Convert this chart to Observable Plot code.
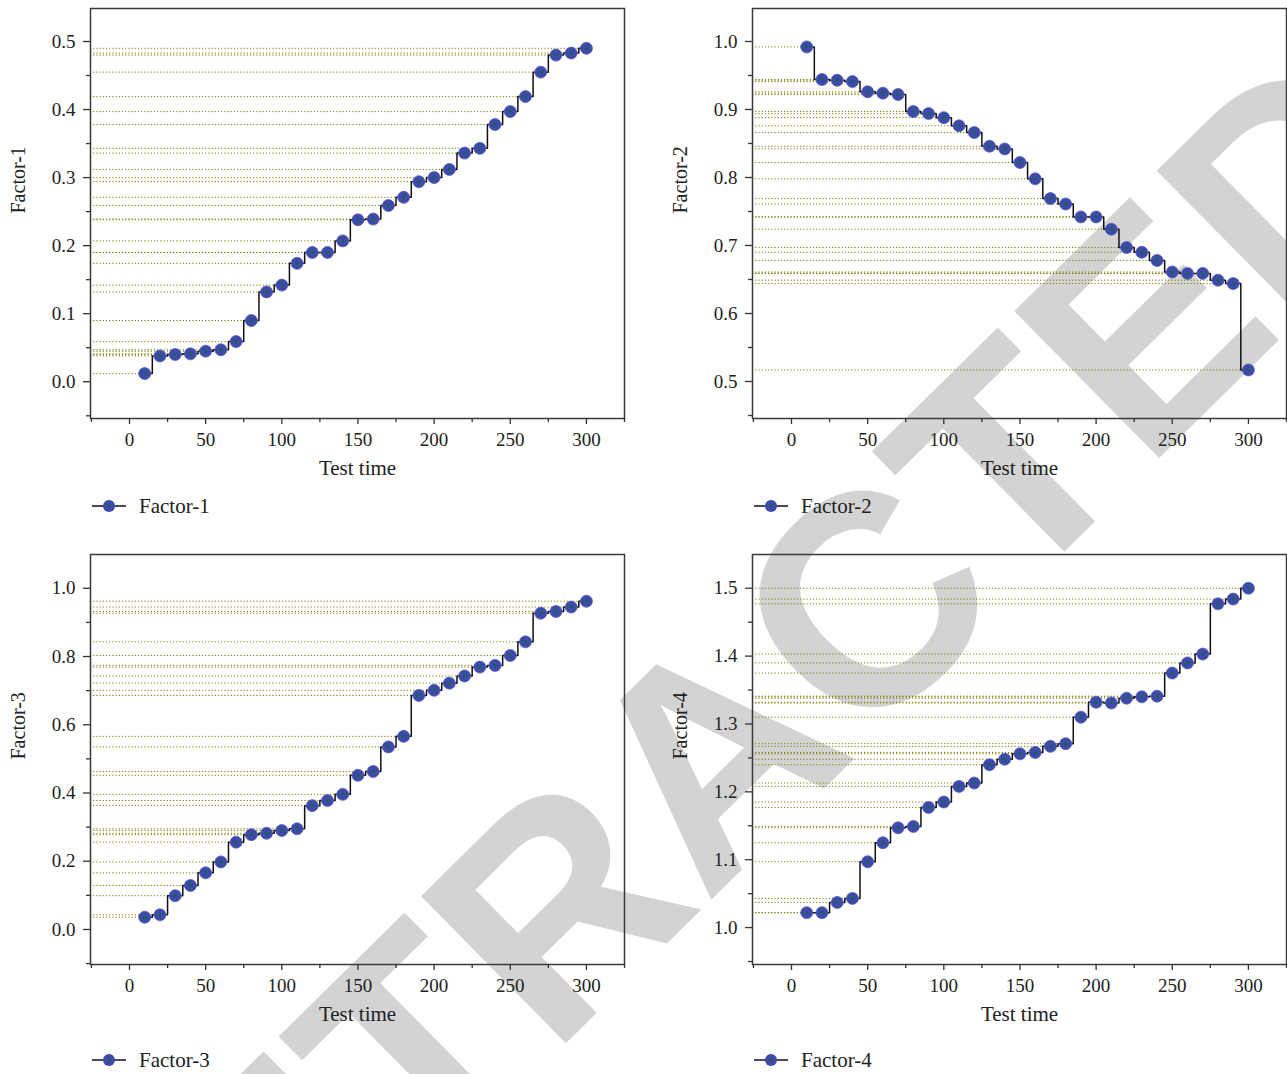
<!DOCTYPE html>
<html><head><meta charset="utf-8">
<script src="https://cdn.jsdelivr.net/npm/d3@7"></script>
<script src="https://cdn.jsdelivr.net/npm/@observablehq/plot@0.6"></script>
<style>
body{margin:0;background:#fff;}
#wrap{position:relative;width:1287px;height:1074px;overflow:hidden;font-family:"Liberation Serif",serif;background:#fff;}
.panel{position:absolute;z-index:1;}
.legend{position:absolute;z-index:1;font-size:21px;display:flex;align-items:center;color:#222;height:24px;}
#wm{position:absolute;left:0;top:0;z-index:0;pointer-events:none;}
</style></head><body><div id="wrap">
<svg id="wm" width="1287" height="1074"><text transform="translate(710,755) rotate(-44.6)" text-anchor="middle" dominant-baseline="central" font-family="Liberation Sans, Arial, sans-serif" font-weight="bold" font-size="300" fill="#d3d3d3">RETRACTED</text></svg>
</div>
<script>
const time = [10, 20, 30, 40, 50, 60, 70, 80, 90, 100, 110, 120, 130, 140, 150, 160, 170, 180, 190, 200, 210, 220, 230, 240, 250, 260, 270, 280, 290, 300];
const factor1 = [0.012, 0.038, 0.040, 0.041, 0.045, 0.047, 0.059, 0.090, 0.132, 0.142, 0.174, 0.190, 0.190, 0.207, 0.238, 0.239, 0.259, 0.271, 0.294, 0.300, 0.312, 0.336, 0.343, 0.378, 0.397, 0.419, 0.455, 0.480, 0.483, 0.490];
const factor2 = [0.992, 0.944, 0.943, 0.941, 0.926, 0.924, 0.922, 0.897, 0.894, 0.888, 0.876, 0.866, 0.846, 0.842, 0.822, 0.798, 0.769, 0.761, 0.742, 0.742, 0.724, 0.697, 0.690, 0.678, 0.661, 0.659, 0.659, 0.649, 0.644, 0.517];
const factor3 = [0.036, 0.043, 0.099, 0.129, 0.166, 0.198, 0.256, 0.278, 0.282, 0.290, 0.295, 0.363, 0.378, 0.396, 0.452, 0.463, 0.535, 0.566, 0.686, 0.701, 0.722, 0.743, 0.769, 0.774, 0.803, 0.843, 0.927, 0.932, 0.945, 0.962];
const factor4 = [1.022, 1.022, 1.037, 1.043, 1.097, 1.125, 1.147, 1.149, 1.177, 1.185, 1.208, 1.213, 1.240, 1.248, 1.256, 1.258, 1.267, 1.271, 1.310, 1.332, 1.331, 1.338, 1.340, 1.341, 1.375, 1.390, 1.403, 1.477, 1.484, 1.500];

const xTicks = [0, 50, 100, 150, 200, 250, 300];
const xMinor = [-25, 25, 75, 125, 175, 225, 275, 325];
const xDomain = [-25.6, 325];

const panels = [
  {name: "Factor-1", values: factor1, left: 0, top: 0, width: 662, mr: 38, yDomain: [-0.054, 0.5485],
   yTicks: [0, 0.1, 0.2, 0.3, 0.4, 0.5], yMinor: [-0.05, 0.05, 0.15, 0.25, 0.35, 0.45, 0.55], legendTop: 494},
  {name: "Factor-2", values: factor2, left: 662, top: 0, width: 625, mr: 1, yDomain: [0.4456, 1.0485],
   yTicks: [0.5, 0.6, 0.7, 0.8, 0.9, 1.0], yMinor: [0.45, 0.55, 0.65, 0.75, 0.85, 0.95, 1.05], legendTop: 494},
  {name: "Factor-3", values: factor3, left: 0, top: 546, width: 662, mr: 38, yDomain: [-0.1026, 1.099],
   yTicks: [0, 0.2, 0.4, 0.6, 0.8, 1.0], yMinor: [-0.1, 0.1, 0.3, 0.5, 0.7, 0.9, 1.1], legendTop: 502},
  {name: "Factor-4", values: factor4, left: 662, top: 546, width: 625, mr: 1, yDomain: [0.9456, 1.5497],
   yTicks: [1.0, 1.1, 1.2, 1.3, 1.4, 1.5], yMinor: [0.95, 1.05, 1.15, 1.25, 1.35, 1.45, 1.55], legendTop: 502}
];

const wrap = document.getElementById("wrap");
const blue = "#3e4aa8";
const green = "#0d6b3c";

for (const p of panels) {
  const data = time.map((t, i) => ({t, v: p.values[i]}));
  const chart = Plot.plot({
    width: p.width, height: 480,
    marginLeft: 90, marginRight: p.mr, marginTop: 8, marginBottom: 62,
    style: {fontFamily: "'Liberation Serif', serif", fontSize: "19px", color: "#222", background: "transparent", overflow: "visible"},
    x: {domain: xDomain},
    y: {domain: p.yDomain},
    marks: [
      Plot.ruleY(data, {x1: () => xDomain[0], x2: "t", y: "v", stroke: "#7d7d00", strokeWidth: 1, strokeDasharray: "1.2,2"}),
      Plot.line(data, {x: "t", y: "v", curve: "step", stroke: "#111", strokeWidth: 1.5}),
      Plot.dot(data, {x: "t", y: "v", r: 6, fill: blue, stroke: "#5560b8", strokeWidth: 0.8}),
      Plot.dot(data, {x: "t", y: "v", r: 1.4, fill: green}),
      Plot.frame({stroke: "#3a3a3a", strokeWidth: 1.5}),
      Plot.axisY({ticks: p.yTicks, tickSize: 7, tickPadding: 8, tickFormat: d3.format(".1f"), label: null, stroke: "#333", strokeWidth: 1.3}),
      Plot.axisY({ticks: p.yMinor.filter(v => v >= p.yDomain[0] && v <= p.yDomain[1]), tickSize: 4, tickFormat: () => "", label: null, stroke: "#333", strokeWidth: 1.3}),
      Plot.axisX({ticks: xTicks, tickSize: 6, tickPadding: 8, label: null, stroke: "#333", strokeWidth: 1.3}),
      Plot.axisX({ticks: xMinor, tickSize: 4, tickFormat: () => "", label: null, stroke: "#333", strokeWidth: 1.3}),
      Plot.text(["Test time"], {frameAnchor: "bottom", dy: 56, fontSize: 21, fill: "#222"}),
      Plot.text([p.name], {frameAnchor: "left", dx: -72, rotate: -90, fontSize: 20, fill: "#222"})
    ]
  });
  const div = document.createElement("div");
  div.className = "panel";
  div.style.left = p.left + "px";
  div.style.top = p.top + "px";
  div.appendChild(chart);
  wrap.appendChild(div);

  const lg = document.createElement("div");
  lg.className = "legend";
  lg.style.left = (p.left + 92) + "px";
  lg.style.top = (p.top + p.legendTop) + "px";
  lg.innerHTML = `<svg width="36" height="24" style="margin-right:11px"><line x1="0" y1="12" x2="34" y2="12" stroke="#111" stroke-width="1.5"/><circle cx="17" cy="12" r="6" fill="${blue}"/><circle cx="17" cy="12" r="1.4" fill="${green}"/></svg><span>${p.name}</span>`;
  wrap.appendChild(lg);
}
</script>
</body></html>
